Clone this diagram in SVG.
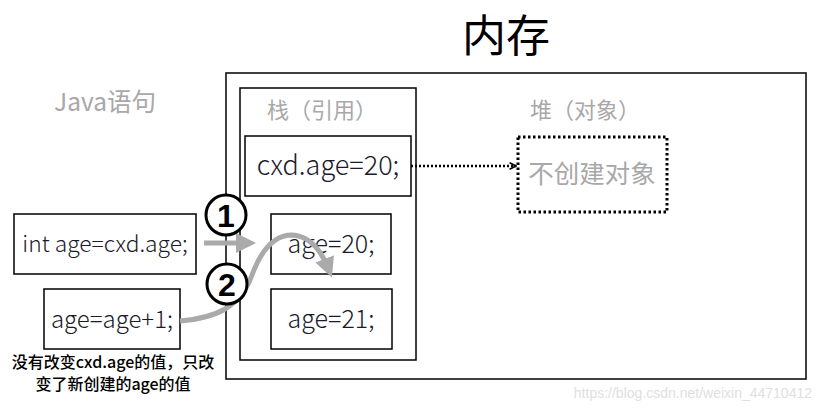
<svg xmlns="http://www.w3.org/2000/svg" width="822" height="409" viewBox="0 0 822 409">
<style>
.box{fill:#fff;stroke:#000;stroke-width:1.5}
.code{font-family:"Noto Sans CJK SC","Noto Sans",sans-serif;font-weight:300;font-size:24px;fill:#1a1a2a;text-anchor:middle}
.lbl{font-family:"Noto Sans CJK SC",sans-serif;font-size:22px;fill:#a8a8a8}
.num{fill:#fff;stroke:#000;stroke-width:3}
.numt{font-family:"Liberation Sans",sans-serif;font-weight:bold;font-size:32px;fill:#000;text-anchor:middle}
.gray{fill:none;stroke:#aaa;stroke-width:5}
</style>
<defs>
<marker id="ah" viewBox="0 0 10 10" refX="6" refY="5" markerWidth="4" markerHeight="4" orient="auto" markerUnits="strokeWidth">
<path d="M0,0 L10,5 L0,10 z" fill="#aaa"/>
</marker>
<marker id="dh" viewBox="0 0 10 10" refX="9" refY="5" markerWidth="8" markerHeight="8" orient="auto" markerUnits="userSpaceOnUse">
<path d="M1,1 L9,5 L1,9" fill="none" stroke="#000" stroke-width="2"/>
</marker>
</defs>
<rect width="822" height="409" fill="#fff"/>
<text x="506" y="52" font-family="Noto Sans CJK SC,sans-serif" font-size="44" text-anchor="middle" fill="#000">内存</text>
<text x="105" y="111" class="lbl" style="font-size:24.5px" text-anchor="middle">Java语句</text>
<g id="memory"><rect class="box" x="226" y="73" width="580" height="306"/></g>
<g id="stack"><rect class="box" x="240" y="88" width="176" height="272"/>
<text x="322" y="118" class="lbl" text-anchor="middle">栈（引用）</text></g>
<g id="heap-label"><text x="585" y="118" class="lbl" text-anchor="middle">堆（对象）</text></g>
<g id="cxd"><rect class="box" x="245" y="136" width="166" height="60"/><text x="328" y="175" class="code" style="font-size:27px">cxd.age=20;</text></g>
<g id="heap-obj"><rect x="518" y="137" width="149" height="75" fill="none" stroke="#000" stroke-width="3" stroke-dasharray="2.5,2.5"/>
<text x="592" y="183" class="lbl" style="font-size:25.5px" text-anchor="middle">不创建对象</text></g>
<g id="age20"><rect class="box" x="271" y="214" width="120" height="60"/><text x="331" y="253" class="code" style="font-size:25px">age=20;</text></g>
<g id="age21"><rect class="box" x="271" y="289" width="121" height="60"/><text x="331" y="328" class="code" style="font-size:25px">age=21;</text></g>
<g id="stmt1"><rect class="box" x="14" y="214" width="182" height="60"/><text x="105" y="252" class="code" style="font-size:22.8px">int age=cxd.age;</text></g>
<g id="stmt2"><rect class="box" x="44" y="289" width="136" height="60"/><text x="112" y="328" class="code">age=age+1;</text></g>
<g id="connectors">
<path d="M411,166 H516" fill="none" stroke="#000" stroke-width="2.5" stroke-dasharray="2,2" marker-end="url(#dh)"/>
<path class="gray" d="M204,243 H248" marker-end="url(#ah)"/>
<path class="gray" d="M180,321 C215,318 240,308 252,275 C262,248 275,235 292,235 C310,236 322,252 329,270" marker-end="url(#ah)"/>
</g>
<g id="n1"><circle class="num" cx="226" cy="215" r="20"/><text x="226" y="227" class="numt">1</text></g>
<g id="n2"><circle class="num" cx="227" cy="284" r="20"/><text x="227" y="296" class="numt">2</text></g>
<g id="caption" font-family="Noto Sans CJK SC,sans-serif" font-size="16" font-weight="500" text-anchor="middle" fill="#000">
<text x="113" y="368">没有改变cxd.age的值，只改</text>
<text x="113" y="390">变了新创建的age的值</text>
</g>
<text x="812" y="398" font-family="Liberation Sans,sans-serif" font-size="14" fill="#e0e0e0" text-anchor="end">https://blog.csdn.net/weixin_44710412</text>
</svg>
